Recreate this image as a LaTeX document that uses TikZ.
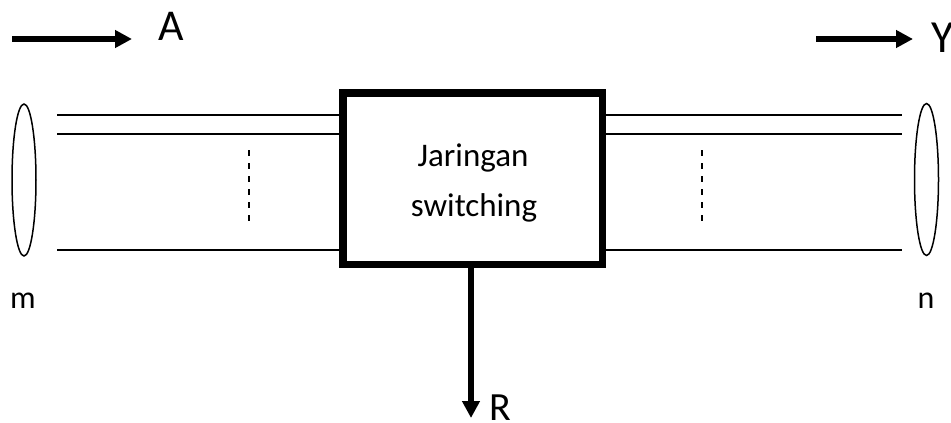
\documentclass[tikz,border=0pt]{standalone}
\usepackage{fontspec}
\setmainfont{Carlito}
\usetikzlibrary{arrows.meta,shapes.geometric}
\tikzset{
  thin line/.style={line width=1.5pt},
  bigarrow/.style={line width=5.5pt,-{Triangle[length=17pt,width=17pt]}},
  ring/.style={draw,ellipse,line width=1.5pt,minimum width=24pt,minimum height=152pt,inner sep=0pt},
  swbox/.style={draw,rectangle,line width=7.5pt,minimum width=259.5pt,minimum height=171.5pt,inner sep=0pt,outer sep=0pt},
  dashline/.style={line width=1.5pt,dash pattern=on 6pt off 7pt},
  lbl/.style={inner sep=0pt,anchor=base}
}
\begin{document}
\begin{tikzpicture}[x=1pt,y=-1pt]
\useasboundingbox (0,0) rectangle (951,423);
% switching box
\node[swbox] (sw) at (472.75,178.75) {};
\node[lbl,font=\fontsize{33}{33}\selectfont] (t1) at (473,166) {Jaringan};
\node[lbl,font=\fontsize{33}{33}\selectfont] (t2) at (474,216) {switching};
% ellipses
\node[ring] (em) at (24,180) {};
\node[ring] (en) at (926.5,179.5) {};
\node[lbl,font=\fontsize{32}{32}\selectfont] (m) at (23,308) {m};
\node[lbl,font=\fontsize{32}{32}\selectfont] (n) at (926,308) {n};
% left lines
\coordinate (l1) at (57,115);
\coordinate (l2) at (57,134);
\coordinate (l3) at (57,250);
\draw[thin line] (l1) -- (l1 -| sw.west);
\draw[thin line] (l2) -- (l2 -| sw.west);
\draw[thin line] (l3) -- (l3 -| sw.west);
% right lines
\coordinate (r1) at (902,115);
\coordinate (r2) at (902,134);
\coordinate (r3) at (902,250);
\draw[thin line] (r1 -| sw.east) -- (r1);
\draw[thin line] (r2 -| sw.east) -- (r2);
\draw[thin line] (r3 -| sw.east) -- (r3);
% dashed
\coordinate (d1a) at (249,150);
\coordinate (d1b) at (249,224);
\coordinate (d2a) at (702,150);
\coordinate (d2b) at (702,224);
\draw[dashline] (d1a) -- (d1b);
\draw[dashline] (d2a) -- (d2b);
% top arrows
\coordinate (a1) at (12,39);
\coordinate (a2) at (132,39);
\coordinate (y1) at (816,39);
\coordinate (y2) at (913,39);
\draw[bigarrow] (a1) -- (a2);
\draw[bigarrow] (y1) -- (y2);
\node[lbl,font=\fontsize{44}{44}\selectfont] (A) at (171,40) {A};
\node[lbl,anchor=base west,font=\fontsize{46}{46}\selectfont] (Y) at (931,52) {Y};
% bottom arrow
\coordinate (rr) at (471,418);
\draw[bigarrow] (sw.south -| rr) -- (rr);
\node[lbl,font=\fontsize{40}{40}\selectfont] (R) at (500,420) {R};
\end{tikzpicture}
\end{document}
